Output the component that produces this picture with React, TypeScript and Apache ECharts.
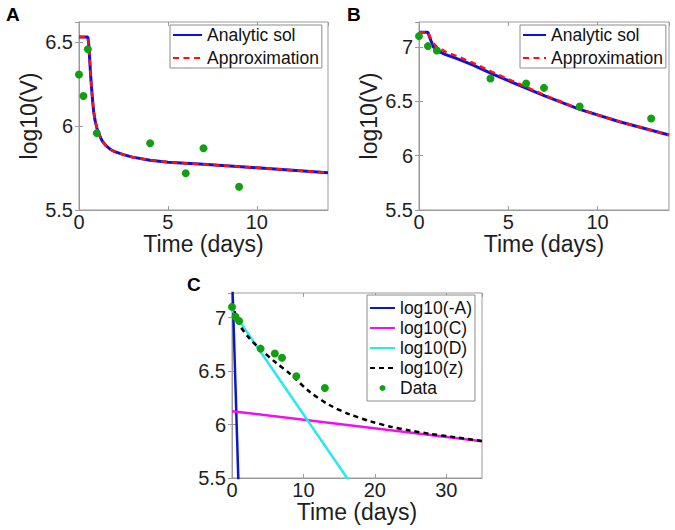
import React, { useEffect, useRef } from "react";
import * as echarts from "echarts";

// ---------- Panel A ----------
const A_LINE_T = [0, 0.5, 0.55, 0.6, 0.65, 0.7, 0.75, 0.82, 0.9, 1.0, 1.13, 1.3, 1.5, 1.75, 2.0, 2.5, 3.0, 4.0, 5.0, 7.0, 10.0, 14.0];
const A_ANALYTIC_V = [6.53, 6.53, 6.48, 6.4, 6.31, 6.235, 6.17, 6.09, 6.035, 5.99, 5.95, 5.912, 5.885, 5.862, 5.848, 5.83, 5.815, 5.797, 5.785, 5.772, 5.752, 5.722];
const A_APPROX_V = [6.53, 6.53, 6.48, 6.4, 6.31, 6.235, 6.17, 6.09, 6.035, 5.99, 5.95, 5.912, 5.885, 5.862, 5.848, 5.83, 5.815, 5.797, 5.785, 5.772, 5.752, 5.722];
const A_DATA_T = [0, 0.25, 0.5, 1, 4, 6, 7, 9];
const A_DATA_V = [6.307, 6.179, 6.458, 5.958, 5.898, 5.719, 5.868, 5.638];

// ---------- Panel B ----------
const B_LINE_T = [0, 0.5, 0.63, 0.82, 1.0, 1.5, 2.2, 3.0, 4.07, 5.0, 5.93, 7.04, 9.0, 11.23, 14.0];
const B_ANALYTIC_V = [7.136, 7.136, 7.074, 6.997, 6.967, 6.93, 6.889, 6.835, 6.756, 6.69, 6.627, 6.55, 6.426, 6.312, 6.19];
const B_APPROX_V = [7.136, 7.136, 7.09, 7.03, 7.0, 6.955, 6.91, 6.855, 6.772, 6.703, 6.637, 6.556, 6.428, 6.313, 6.19];
const B_DATA_T = [0, 0.5, 1, 4, 6, 7, 9, 13];
const B_DATA_V = [7.1, 7.008, 6.968, 6.71, 6.664, 6.624, 6.452, 6.342];

// ---------- Panel C ----------
const C_NEGA_T = [0, 0.95];
const C_NEGA_V = [7.43, 5.35];
const C_C_T = [0, 35];
const C_C_V = [6.125, 5.843];
const C_D_T = [0, 16.3];
const C_D_V = [7.07, 5.481];
const C_Z_T = [0, 1, 2.4, 3.8, 6.2, 8.1, 10.9, 13.7, 16.5, 19.4, 22.2, 25, 27.8, 30.6, 35];
const C_Z_V = [7.14, 6.94, 6.81, 6.715, 6.575, 6.475, 6.305, 6.18, 6.095, 6.03, 5.98, 5.943, 5.912, 5.887, 5.846];

// ---------- Axis settings ----------
const A_X_MAX = 14;
const B_X_MAX = 14;
const C_X_MAX = 35;
const A_Y_MIN = 5.5;
const A_Y_MAX = 6.62;
const B_Y_MIN = 5.5;
const B_Y_MAX = 7.23;
const C_Y_MIN = 5.5;
const C_Y_MAX = 7.23;

const FONT = "'Liberation Sans', Arial, Helvetica, sans-serif";
const GRAY = "#9b9b9b";
const TEXT = "#1e1e1e";
const BLUE = "#0f0fe0";
const RED = "#ff1010";
const GREEN = "#12a012";
const MAGENTA = "#ee10ee";
const CYAN = "#28e8f0";

const zip = (t: number[], v: number[]) => t.map((x, i) => [x, v[i]]);

function xBottom(gridIndex: number, max: number, interval: number) {
  return {
    type: "value",
    gridIndex,
    min: 0,
    max,
    interval,
    position: "bottom",
    name: "Time (days)",
    nameLocation: "middle",
    nameGap: 18,
    nameTextStyle: { fontSize: 23, fontFamily: FONT, color: TEXT },
    axisLine: { show: true, lineStyle: { color: GRAY, width: 1 } },
    axisTick: { show: true, inside: true, length: 4, lineStyle: { color: GRAY } },
    axisLabel: { fontSize: 20, fontFamily: FONT, color: TEXT, margin: 2, showMaxLabel: false },
    splitLine: { show: false },
  };
}
function xTop(gridIndex: number, max: number, interval: number) {
  return {
    type: "value",
    gridIndex,
    min: 0,
    max,
    interval,
    position: "top",
    axisLine: { show: false },
    axisTick: { show: true, inside: true, length: 4, lineStyle: { color: GRAY } },
    axisLabel: { show: false },
    splitLine: { show: false },
  };
}
function yLeft(gridIndex: number, min: number, max: number, name: string) {
  return {
    type: "value",
    gridIndex,
    min,
    max,
    interval: 0.5,
    position: "left",
    name,
    nameLocation: "middle",
    nameGap: 39,
    nameTextStyle: { fontSize: 23, fontFamily: FONT, color: TEXT },
    axisLine: { show: true, lineStyle: { color: GRAY, width: 1 } },
    axisTick: { show: true, inside: true, length: 4, lineStyle: { color: GRAY } },
    axisLabel: { fontSize: 20, fontFamily: FONT, color: TEXT, margin: 6, showMaxLabel: false },
    splitLine: { show: false },
  };
}
function yRight(gridIndex: number, min: number, max: number) {
  return {
    type: "value",
    gridIndex,
    min,
    max,
    interval: 0.5,
    position: "right",
    axisLine: { show: false },
    axisTick: { show: true, inside: true, length: 4, lineStyle: { color: GRAY } },
    axisLabel: { show: false },
    splitLine: { show: false },
  };
}

function legendBase(left: number, top: number, itemWidth: number, itemGap: number, pad: number[], data: any[]) {
  return {
    show: true,
    orient: "vertical",
    left,
    top,
    data,
    itemWidth,
    itemHeight: 6,
    itemGap,
    padding: pad,
    borderColor: "#8c8c8c",
    borderWidth: 1,
    borderRadius: 0,
    backgroundColor: "#ffffff",
    selectedMode: false,
    itemStyle: { opacity: 0 },
    textStyle: { fontSize: 17.5, fontFamily: FONT, color: "#111", lineHeight: 18 },
  };
}

export default function App() {
  const ref = useRef<HTMLDivElement>(null);

  useEffect(() => {
    if (!ref.current) return;
    const chart = echarts.init(ref.current, undefined, { renderer: "svg" });

    const option: any = {
      animation: false,
      backgroundColor: "#ffffff",
      grid: [
        { left: 79, top: 22, width: 249, height: 188, show: true, borderColor: GRAY, borderWidth: 1, containLabel: false },
        { left: 419, top: 22, width: 250, height: 188, show: true, borderColor: GRAY, borderWidth: 1, containLabel: false },
        { left: 232, top: 293, width: 250, height: 185, show: true, borderColor: GRAY, borderWidth: 1, containLabel: false },
      ],
      xAxis: [
        xBottom(0, A_X_MAX, 5),
        xBottom(1, B_X_MAX, 5),
        xBottom(2, C_X_MAX, 10),
        xTop(0, A_X_MAX, 5),
        xTop(1, B_X_MAX, 5),
        xTop(2, C_X_MAX, 10),
      ],
      yAxis: [
        yLeft(0, A_Y_MIN, A_Y_MAX, "log10(V)"),
        yLeft(1, B_Y_MIN, B_Y_MAX, "log10(V)"),
        yLeft(2, C_Y_MIN, C_Y_MAX, ""),
        yRight(0, A_Y_MIN, A_Y_MAX),
        yRight(1, B_Y_MIN, B_Y_MAX),
        yRight(2, C_Y_MIN, C_Y_MAX),
      ],
      legend: [
        legendBase(170, 25, 29, 5, [1, 3, 1, 2], ["Analytic sol", "Approximation"]),
        legendBase(520, 25, 23, 5, [1, 3, 1, 2], ["Analytic sol", "Approximation"]),
        legendBase(367, 295, 25, 2, [4, 3, 4, 2], [
          "log10(-A)",
          "log10(C)",
          "log10(D)",
          "log10(z)",
          { name: "Data", icon: "circle", itemStyle: { opacity: 1, color: GREEN } },
        ]),
      ],
      series: [
        // Panel A
        {
          type: "line", name: "Analytic sol", xAxisIndex: 0, yAxisIndex: 0,
          data: zip(A_LINE_T, A_ANALYTIC_V), symbol: "none", showSymbol: false,
          lineStyle: { color: BLUE, width: 3 }, itemStyle: { color: BLUE }, z: 2,
        },
        {
          type: "line", name: "Approximation", xAxisIndex: 0, yAxisIndex: 0,
          data: zip(A_LINE_T, A_APPROX_V), symbol: "none", showSymbol: false,
          lineStyle: { color: RED, width: 2.5, type: [6, 4.5] }, itemStyle: { color: RED }, z: 3,
        },
        {
          type: "scatter", name: "Data (A)", xAxisIndex: 0, yAxisIndex: 0,
          data: zip(A_DATA_T, A_DATA_V), symbol: "circle", symbolSize: 8,
          itemStyle: { color: GREEN, opacity: 1 }, z: 4,
        },
        // Panel B
        {
          type: "line", name: "Analytic sol", xAxisIndex: 1, yAxisIndex: 1,
          data: zip(B_LINE_T, B_ANALYTIC_V), symbol: "none", showSymbol: false,
          lineStyle: { color: BLUE, width: 3 }, itemStyle: { color: BLUE }, z: 2,
        },
        {
          type: "line", name: "Approximation", xAxisIndex: 1, yAxisIndex: 1,
          data: zip(B_LINE_T, B_APPROX_V), symbol: "none", showSymbol: false,
          lineStyle: { color: RED, width: 2.5, type: [6, 4.5] }, itemStyle: { color: RED }, z: 3,
        },
        {
          type: "scatter", name: "Data (B)", xAxisIndex: 1, yAxisIndex: 1,
          data: zip(B_DATA_T, B_DATA_V), symbol: "circle", symbolSize: 8,
          itemStyle: { color: GREEN, opacity: 1 }, z: 4,
        },
        // Panel C
        {
          type: "line", name: "log10(-A)", xAxisIndex: 2, yAxisIndex: 2,
          data: zip(C_NEGA_T, C_NEGA_V), symbol: "none", showSymbol: false, clip: true,
          lineStyle: { color: "#0a18c8", width: 2.5 }, itemStyle: { color: "#0a18c8" }, z: 2,
        },
        {
          type: "line", name: "log10(C)", xAxisIndex: 2, yAxisIndex: 2,
          data: zip(C_C_T, C_C_V), symbol: "none", showSymbol: false, clip: true,
          lineStyle: { color: MAGENTA, width: 2.5 }, itemStyle: { color: MAGENTA }, z: 2,
        },
        {
          type: "line", name: "log10(D)", xAxisIndex: 2, yAxisIndex: 2,
          data: zip(C_D_T, C_D_V), symbol: "none", showSymbol: false, clip: true,
          lineStyle: { color: CYAN, width: 2.5 }, itemStyle: { color: CYAN }, z: 2,
        },
        {
          type: "line", name: "log10(z)", xAxisIndex: 2, yAxisIndex: 2,
          data: zip(C_Z_T, C_Z_V), symbol: "none", showSymbol: false, clip: true, smooth: 0.3,
          lineStyle: { color: "#000000", width: 2.5, type: [5, 4] }, itemStyle: { color: "#000000" }, z: 3,
        },
        {
          type: "scatter", name: "Data", xAxisIndex: 2, yAxisIndex: 2,
          data: zip(B_DATA_T, B_DATA_V), symbol: "circle", symbolSize: 8,
          itemStyle: { color: GREEN, opacity: 1 }, z: 4,
        },
      ],
      graphic: [
        { type: "text", left: 6, top: 5, style: { text: "A", font: `bold 19px ${FONT}`, fill: "#000" } },
        { type: "text", left: 347, top: 5, style: { text: "B", font: `bold 19px ${FONT}`, fill: "#000" } },
        { type: "text", left: 187, top: 275, style: { text: "C", font: `bold 19px ${FONT}`, fill: "#000" } },
      ],
    };

    chart.setOption(option);
    return () => {
      chart.dispose();
    };
  }, []);

  return (
    <div
      ref={ref}
      style={{ position: "absolute", left: 0, top: 0, width: 675, height: 530, background: "#fff" }}
    />
  );
}
